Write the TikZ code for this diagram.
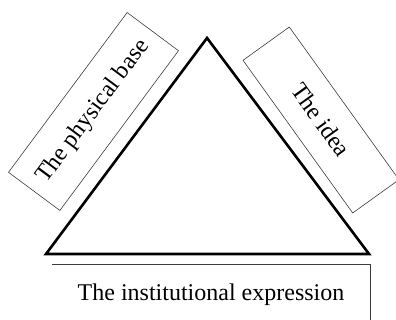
\documentclass[tikz,border=0pt]{standalone}
\usepackage{fontspec}
\setmainfont{Liberation Serif}
\usepackage{xcolor}
\usetikzlibrary{positioning,calc}
\definecolor{boxgray}{RGB}{60,60,60}
\tikzset{
  sidebox/.style={draw=boxgray, line width=0.6pt, rectangle, inner sep=0pt,
    align=center, font=\fontsize{24}{27}\selectfont},
  edge/.style={line width=2.6pt, line join=miter},
  frame/.style={draw=boxgray, line width=0.7pt}
}
\begin{document}
\begin{tikzpicture}[x=1pt, y=-1pt]
\useasboundingbox (0,0) rectangle (396,320);
\coordinate (apex) at (207,38);
\coordinate (bl) at (46,254);
\coordinate (br) at (369,254);
\draw[edge] (apex)--(br)--(bl)--cycle;

\node[sidebox, minimum width=199pt, minimum height=64pt, rotate=53.4] (base) at (93.5,111.5) {The physical base};
\node[sidebox, minimum width=188pt, minimum height=57pt, rotate=-54.3] (idea) at (321,120) {The idea};

\node[font=\fontsize{24}{27}\selectfont, inner sep=0pt, anchor=base] (inst) at (211,301) {The institutional expression};
\coordinate (fl) at (52,264);
\coordinate (fr) at (370,264);
\coordinate (fd) at (370,325);
\draw[frame] (fl)--(fr)--(fd);
\end{tikzpicture}
\end{document}
